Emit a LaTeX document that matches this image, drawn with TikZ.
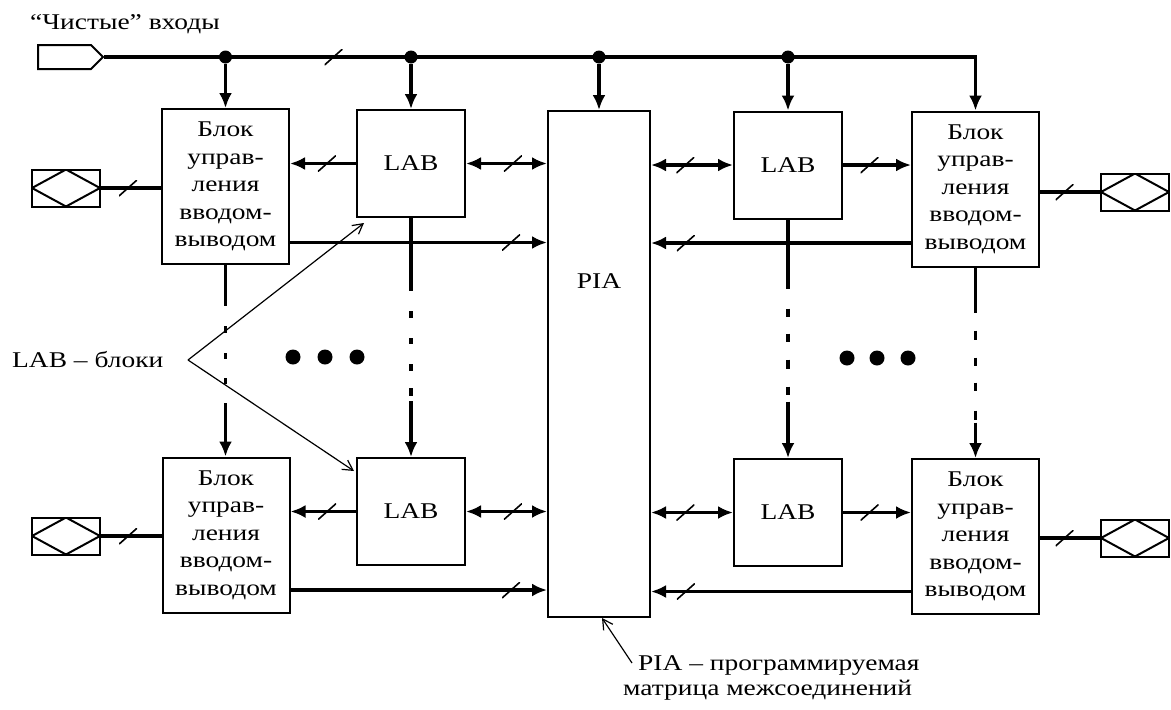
\documentclass[tikz,border=0pt]{standalone}
\usepackage{fontspec}
\setmainfont{Liberation Serif}[FakeStretch=1.22]
\usepackage{tikz}
\usetikzlibrary{arrows.meta, positioning, shapes.symbols, calc}

\begin{document}
\begin{tikzpicture}[x=1pt, y=-1pt,
  box/.style={rectangle, draw=black, line width=2pt, align=center, inner sep=0pt, font=\fontsize{22.5}{27.5}\selectfont},
  iobox/.style={box, minimum width=127pt, minimum height=155pt},
  lab/.style={box, minimum width=108pt, minimum height=107pt},
  pad/.style={draw=black, line width=2pt, minimum width=68pt, minimum height=37pt, inner sep=0pt, path picture={\draw[-, line width=2pt] (path picture bounding box.west) -- (path picture bounding box.north) -- (path picture bounding box.east) -- (path picture bounding box.south) -- cycle;}},
  wire/.style={line width=3.4pt},
  arr/.style={wire, -{Latex[length=15pt, width=13pt]}},
  darr/.style={wire, {Latex[length=15pt, width=13pt]}-{Latex[length=15pt, width=13pt]}},
  slashmark/.style={inner sep=0pt, minimum width=18pt, minimum height=16pt, path picture={\draw[-, line width=1.6pt] (path picture bounding box.south west) -- (path picture bounding box.north east);}},
  note/.style={font=\fontsize{22.5}{25}\selectfont, inner sep=0pt},
  pointer/.style={line width=1.2pt, -{Straight Barb[length=10pt, width=11pt]}},
  joint/.style={circle, fill=black, inner sep=0pt, minimum size=13pt}
]
\useasboundingbox (0,0) rectangle (1171,710);
\node[signal, signal to=east, draw, line width=2pt, minimum width=65pt, minimum height=24pt, inner sep=0pt] (inp) at (64.5,57) {};
\node[note, anchor=west] (inpnote) at (30,24) {“Чистые” входы};
\node[iobox] (iotl) at (225.5,186.5) {Блок\\управ-\\ления\\вводом-\\выводом};
\node[lab] (labtl) at (411,163.5) {LAB};
\node[box, minimum width=102pt, minimum height=506pt, label={[note, anchor=center, yshift=-171pt]north:PIA}] (pia) at (599,364) {};
\node[lab] (labtr) at (788,165) {LAB};
\node[iobox] (iotr) at (975.5,189) {Блок\\управ-\\ления\\вводом-\\выводом};
\node[iobox] (iobl) at (226,535) {Блок\\управ-\\ления\\вводом-\\выводом};
\node[lab] (labbl) at (411,511.5) {LAB};
\node[lab] (labbr) at (788,512.5) {LAB};
\node[iobox] (iobr) at (975.5,536.5) {Блок\\управ-\\ления\\вводом-\\выводом};
\node[pad] (padtl) at (66,188) {};
\node[pad] (padbl) at (66,536) {};
\node[pad] (padtr) at (1135,192) {};
\node[pad] (padbr) at (1135,538) {};
\draw[arr] (inp.east) -- node[slashmark, pos=.263]{} (inp.east -| iotr.north) -- (iotr.north);
\foreach \n in {iotl, labtl, pia, labtr} {
  \node[joint] (j\n) at (inp.east -| \n.north) {};
  \draw[arr] (j\n) -- (\n.north);
}
\draw[wire] (padtl) -- node[slashmark, pos=.45]{} (padtl -| iotl.west);
\draw[arr] (labtl) -- node[slashmark, pos=.44]{} (labtl -| iotl.east);
\draw[darr] (labtl) -- node[slashmark, pos=.58]{} (labtl -| pia.west);
\draw[arr] ([yshift=-56pt]iotl.east) -- node[slashmark, pos=.86]{} ([yshift=-56pt]iotl.east -| pia.west);
\draw[darr] (labtr) -- node[slashmark, pos=.58]{} (labtr -| pia.east);
\draw[arr] (labtr) -- node[slashmark, pos=.39]{} (labtr -| iotr.west);
\draw[arr] ([yshift=-54pt]iotr.west) -- node[slashmark, pos=.866]{} ([yshift=-54pt]iotr.west -| pia.east);
\draw[wire] (iotr.east |- padtr) -- node[slashmark, pos=.41]{} (padtr);
\draw[wire] (padbl) -- node[slashmark, pos=.45]{} (padbl -| iobl.west);
\draw[arr] (labbl) -- node[slashmark, pos=.44]{} (labbl -| iobl.east);
\draw[darr] (labbl) -- node[slashmark, pos=.58]{} (labbl -| pia.west);
\draw[arr] ([yshift=-55pt]iobl.east) -- node[slashmark, pos=.86]{} ([yshift=-55pt]iobl.east -| pia.west);
\draw[darr] (labbr) -- node[slashmark, pos=.58]{} (labbr -| pia.east);
\draw[arr] (labbr) -- node[slashmark, pos=.39]{} (labbr -| iobr.west);
\draw[arr] ([yshift=-55pt]iobr.west) -- node[slashmark, pos=.866]{} ([yshift=-55pt]iobr.west -| pia.east);
\draw[wire] (iobr.east |- padbr) -- node[slashmark, pos=.41]{} (padbr);
\draw[arr, dash pattern=on 41pt off 20pt on 7pt off 20pt on 6pt off 19pt on 6pt off 19pt on 80pt] (iotl.south) -- (iotl.south |- iobl.north);
\draw[arr, dash pattern=on 73pt off 20pt on 7pt off 20pt on 6pt off 20pt on 7pt off 17pt on 8pt off 5pt on 80pt] (labtl.south) -- (labtl.south |- labbl.north);
\draw[arr, dash pattern=on 69pt off 20pt on 8pt off 17pt on 8pt off 18pt on 9pt off 18pt on 8pt off 7pt on 80pt] (labtr.south) -- (labtr.south |- labbr.north);
\draw[arr, dash pattern=on 45pt off 18pt on 9pt off 18pt on 8pt off 17pt on 8pt off 20pt on 9pt off 3pt on 80pt] (iotr.south) -- (iotr.south |- iobr.north);
\foreach \x in {293, 325, 357} \fill (\x,357) circle[radius=7.5];
\foreach \x in {847, 877, 908} \fill (\x,358) circle[radius=7.5];
\node[note, anchor=west] (labnote) at (12,360) {LAB – блоки};
\coordinate (apex) at (188,360);
\draw[pointer] (apex) -- ([xshift=8pt, yshift=-5pt]labtl.south west);
\draw[pointer] (apex) -- ([xshift=-2pt, yshift=-14pt]labbl.north west);
\node[note, anchor=north west, align=left] (pianote) at (623,655) {\hspace*{15pt}PIA – программируемая\\матрица межсоединений};
\draw[pointer] ([xshift=9pt, yshift=-8pt]pianote.north west) -- ([xshift=3pt]pia.south);
\end{tikzpicture}
\end{document}
